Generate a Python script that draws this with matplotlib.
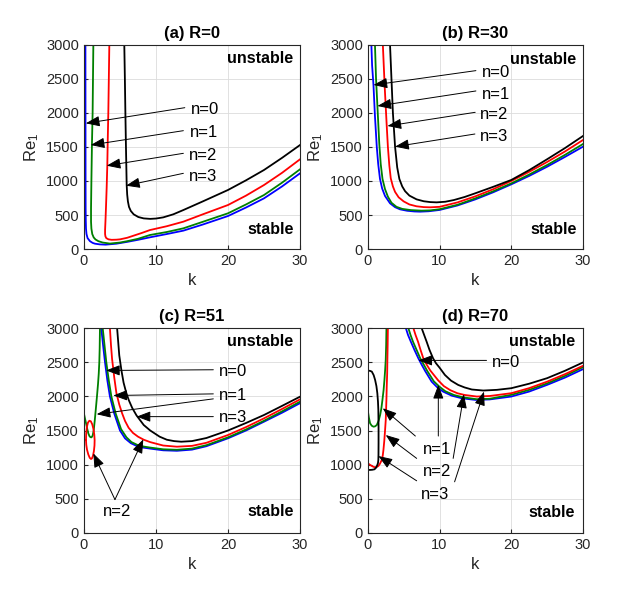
import matplotlib
matplotlib.use("Agg")
from matplotlib import pyplot as plt

plt.rcParams['font.family'] = ['Liberation Sans', 'DejaVu Sans']
plt.rcParams['mathtext.default'] = 'regular'

# colours of the modes n=0..3
mode_colors = ['#0000ff', '#008000', '#ff0000', '#000000']

# ---- (a) R=0 ----
a_k = [
    [0.2, 0.21, 0.22, 0.23, 0.25, 0.28, 0.35, 0.5, 0.83, 1.2, 1.53, 2.2, 3.0, 4.5, 6.0, 7.5, 9.17,
     11.5, 13.8, 16.5, 20, 22.5, 25, 27.5, 30],
    [1.3, 1.2, 1.11, 1.03, 0.98, 0.98, 1.03, 1.15, 1.35, 1.6, 2.0, 2.6, 3.6, 5.0, 6.0, 7.5, 9.17,
     11.5, 13.8, 16.5, 20, 22.5, 25, 27.5, 30],
    [3.52, 3.45, 3.38, 3.3, 3.24, 3.15, 3.06, 2.98, 2.93, 2.93, 2.98, 3.1, 3.4, 3.84, 4.5, 5.0, 6.0,
     7.0, 8.0, 9.17, 11.5, 13.8, 16.5, 20, 22.5, 25, 27.5, 30],
    [5.6, 5.68, 5.75, 5.83, 5.93, 6.0, 6.1, 6.25, 6.5, 6.9, 7.55, 8.3, 9.2, 10, 11, 12.4, 13.8,
     16.5, 20, 22.5, 25, 27.5, 30],
]
a_re = [
    [3000, 2000, 1000, 600, 420, 300, 220, 160, 115, 90, 78, 68, 64, 78, 105, 135, 172,
     220, 270, 360, 485, 610, 745, 920, 1113],
    [3000, 2000, 1554, 1000, 600, 400, 300, 220, 170, 140, 115, 95, 80, 95, 115, 150, 206,
     250, 304, 400, 525, 655, 794, 975, 1172],
    [3000, 2500, 2000, 1600, 1235, 900, 623, 400, 280, 220, 185, 160, 142, 135, 137, 142, 165,
     200, 235, 279, 335, 402, 510, 647, 785, 941, 1120, 1319],
    [3000, 2500, 2000, 1500, 941, 800, 700, 620, 560, 510, 470, 450, 443, 448, 465, 510, 573,
     700, 868, 1010, 1162, 1340, 1529],
]

# ---- (b) R=30 ----
b_k = [
    [0.5, 0.6, 0.79, 1.0, 1.25, 1.45, 1.7, 2.0, 2.4, 3.1, 3.8, 4.5, 5.5, 6.5, 7.3, 8.5, 10,
     12.5, 15, 17.5, 20, 22.5, 25, 27.5, 30],
    [1.0, 1.15, 1.34, 1.6, 1.8, 2.05, 2.4, 2.8, 3.3, 4.0, 4.8, 6.0, 7.5, 8.7, 10,
     12.5, 15, 17.5, 20, 22.5, 25, 27.5, 30],
    [2.1, 2.35, 2.64, 2.8, 3.0, 3.2, 3.5, 3.8, 4.3, 5.0, 5.8, 6.8, 7.8, 8.7, 10,
     12.5, 15, 17.5, 20, 22.5, 25, 27.5, 30],
    [3.1, 3.3, 3.5, 3.8, 4.1, 4.4, 4.8, 5.2, 5.8, 6.8, 7.8, 8.7, 9.6, 10.8, 12, 13.5,
     15, 17.5, 20, 22.5, 25, 27.5, 30],
]
b_re = [
    [3000, 2700, 2412, 1950, 1505, 1250, 1030, 890, 780, 672, 615, 583, 562, 552, 549, 555, 574,
     640, 730, 835, 951, 1075, 1210, 1355, 1505],
    [3000, 2500, 2103, 1550, 1250, 1030, 880, 770, 680, 620, 590, 572, 564, 568, 585,
     650, 745, 850, 965, 1095, 1235, 1385, 1544],
    [3000, 2400, 1809, 1505, 1230, 1040, 920, 840, 760, 700, 655, 628, 616, 613, 620,
     685, 775, 880, 1000, 1135, 1280, 1435, 1603],
    [3000, 2500, 2000, 1505, 1200, 1030, 920, 850, 785, 730, 702, 690, 686, 695, 720, 765,
     820, 915, 1015, 1160, 1320, 1485, 1662],
]

# ---- (c) R=51 ----
c_k = [
    [2.4, 2.65, 2.92, 3.25, 3.6, 4.2, 5.0, 5.7, 6.5, 7.3, 8.2, 9.2, 11, 12.9, 15, 17, 20,
     22.5, 25, 27.5, 30],
    [2.6, 2.85, 3.1, 3.45, 3.8, 4.4, 5.15, 5.9, 6.6, 7.4, 8.3, 9.2, 11, 12.9, 15, 17, 20,
     22.5, 25, 27.5, 30],
    [3.6, 3.75, 3.9, 4.2, 4.5, 4.9, 5.3, 5.7, 6.2, 6.8, 7.5, 8.3, 9.2, 11, 12.9, 15, 17, 20,
     22.5, 25, 27.5, 30],
    [4.6, 4.75, 4.9, 5.2, 5.5, 5.85, 6.2, 6.7, 7.3, 8.3, 9.2, 10.5, 11.5, 12.5, 13.5, 15, 17, 20,
     22.5, 25, 27.5, 30],
]
c_re = [
    [3000, 2750, 2500, 2230, 2000, 1750, 1500, 1385, 1315, 1275, 1250, 1235, 1210, 1203, 1220, 1270, 1386,
     1500, 1629, 1760, 1900],
    [3000, 2750, 2500, 2230, 2000, 1750, 1520, 1400, 1330, 1290, 1265, 1250, 1225, 1218, 1235, 1285, 1400,
     1515, 1643, 1780, 1922],
    [3000, 2750, 2550, 2280, 2050, 1880, 1750, 1640, 1540, 1465, 1410, 1365, 1330, 1280, 1263, 1275, 1320, 1434,
     1550, 1678, 1815, 1956],
    [3000, 2800, 2600, 2380, 2200, 2060, 1950, 1830, 1720, 1580, 1500, 1410, 1365, 1345, 1336, 1345, 1390, 1500,
     1610, 1727, 1860, 1995],
]
# n=1 left branch and n=2 closed loop at small k
c1_left_k = [0, 0.15, 0.3, 0.45, 0.6, 0.75, 0.9, 1.05, 1.2, 1.35, 1.5, 1.65, 1.8, 1.95, 2.05, 2.13, 2.18, 2.22]
c1_left_re = [1745, 1670, 1600, 1525, 1460, 1420, 1402, 1400, 1425, 1500, 1650, 1820, 1995, 2180, 2330, 2500, 2700, 3000]
c2_loop_k = [0.28, 0.31, 0.4, 0.55, 0.75, 0.95, 1.15, 1.32, 1.43, 1.48, 1.46, 1.38, 1.25, 1.1, 0.98, 0.8, 0.6, 0.42, 0.32, 0.28]
c2_loop_re = [1360, 1460, 1550, 1615, 1643, 1635, 1590, 1520, 1440, 1360, 1280, 1200, 1130, 1090, 1083, 1100, 1150, 1220, 1290, 1360]

# ---- (d) R=70 ----
d_k = [
    [5.3, 5.6, 6.0, 6.5, 7.05, 7.5, 8.0, 8.9, 9.7, 10.5, 11.7, 13.1, 15, 17, 20, 22.5, 25, 27.5, 30],
    [5.65, 5.95, 6.3, 6.8, 7.3, 7.8, 8.3, 9.2, 10.0, 10.8, 12.0, 13.3, 15.2, 17, 20, 22.5, 25, 27.5, 30],
    [6.35, 6.65, 7.0, 7.35, 7.74, 8.2, 8.7, 9.8, 10.6, 11.5, 12.5, 13.5, 15.2, 17, 20, 22.5, 25, 27.5, 30],
    [7.5, 7.85, 8.2, 8.6, 9.1, 9.5, 10.0, 10.75, 11.6, 12.6, 13.5, 14.5, 16.1, 18, 20, 22.5, 25, 27.5, 30],
]
d_re = [
    [3000, 2900, 2800, 2680, 2556, 2465, 2370, 2215, 2130, 2069, 2010, 1972, 1948, 1955, 1997, 2070, 2168, 2275, 2398],
    [3000, 2900, 2800, 2680, 2560, 2465, 2370, 2220, 2140, 2075, 2020, 1985, 1958, 1965, 2022, 2095, 2190, 2300, 2428],
    [3000, 2900, 2800, 2680, 2556, 2465, 2380, 2235, 2150, 2090, 2045, 2020, 1997, 2005, 2046, 2120, 2215, 2325, 2447],
    [3000, 2900, 2800, 2680, 2556, 2485, 2420, 2313, 2230, 2167, 2130, 2100, 2085, 2095, 2119, 2185, 2266, 2375, 2496],
]
# small-k branches for n=1, n=2, n=3
d1_left_k = [0, 0.15, 0.32, 0.55, 0.79, 1.0, 1.25, 1.5, 1.72, 1.9, 2.04, 2.2, 2.32, 2.42, 2.5, 2.56, 2.6]
d1_left_re = [1791, 1690, 1605, 1570, 1556, 1560, 1580, 1640, 1727, 1830, 1947, 2090, 2240, 2390, 2533, 2750, 3000]
d2_left_k = [0, 0.3, 0.56, 0.8, 1.02, 1.25, 1.48, 1.7, 1.95, 2.08, 2.18, 2.3, 2.41, 2.5, 2.55, 2.6, 2.64, 2.7, 2.73, 2.77, 2.8]
d2_left_re = [1020, 998, 981, 968, 962, 966, 981, 1015, 1069, 1130, 1215, 1350, 1508, 1650, 1800, 1970, 2142, 2330, 2533, 2760, 3000]
d3_left_k = [0, 0.3, 0.56, 0.82, 1.02, 1.2, 1.33, 1.42, 1.47, 1.5, 1.5, 1.49, 1.47, 1.42, 1.33, 1.15, 0.93, 0.6, 0.32, 0]
d3_left_re = [2377, 2373, 2362, 2310, 2240, 2150, 2045, 1920, 1800, 1550, 1313, 1150, 1069, 1025, 996, 955, 932, 925, 923, 923]

titles = ['(a) R=0', '(b) R=30', '(c) R=51', '(d) R=70']

# (label, text x, text y, ha, [(tail x, tail y, head x, head y), ...])
notes = [
    [('n=0', 14.8, 2044, 'left', [(14.0, 2078, 0.25, 1848)]),
     ('n=1', 14.7, 1716, 'left', [(13.8, 1740, 0.93, 1529)]),
     ('n=2', 14.6, 1382, 'left', [(13.8, 1407, 3.15, 1225)]),
     ('n=3', 14.6, 1064, 'left', [(13.8, 1113, 5.83, 931)])],
    [('n=0', 15.9, 2593, 'left', [(15.07, 2623, 0.79, 2412)]),
     ('n=1', 15.9, 2279, 'left', [(15.07, 2324, 1.34, 2103)]),
     ('n=2', 15.6, 1971, 'left', [(14.97, 2010, 2.74, 1809)]),
     ('n=3', 15.6, 1652, 'left', [(14.93, 1691, 3.8, 1505)])],
    [('n=0', 18.8, 2364, 'left', [(17.96, 2389, 3.06, 2379)]),
     ('n=1', 18.8, 2012, 'left', [(17.96, 2036, 4.07, 2012), (17.96, 1963, 1.76, 1738)]),
     ('n=3', 18.8, 1694, 'left', [(17.96, 1703, 7.31, 1703)]),
     ('n=2', 4.54, 308, 'center', [(4.3, 489, 1.3, 1165), (4.3, 489, 8.24, 1371)])],
    [('n=0', 17.3, 2501, 'left', [(16.55, 2526, 7.05, 2526)]),
     ('n=1', 9.7, 1224, 'center', [(6.63, 1419, 2.09, 1826), (9.83, 1419, 9.83, 2168)]),
     ('n=2', 9.6, 896, 'center', [(6.81, 1092, 2.5, 1434), (11.9, 1092, 13.4, 2031)]),
     ('n=3', 9.36, 568, 'center', [(6.81, 764, 1.48, 1126), (12.1, 749, 16.2, 2070)])],
]

# (unstable y, stable y, right x)
region_pos = [(2804, 294, 29.1), (2789, 294, 29.1), (2805, 308, 29.1), (2805, 294, 28.9)]

fig = plt.figure(figsize=(6.43, 5.99), dpi=100)
boxes = [(0.1306, 0.5843, 0.336, 0.3406), (0.572, 0.5843, 0.3347, 0.3406),
         (0.1306, 0.1102, 0.336, 0.3422), (0.572, 0.1102, 0.3347, 0.3422)]

all_k = [a_k, b_k, c_k, d_k]
all_re = [a_re, b_re, c_re, d_re]

for p in range(4):
    ax = fig.add_axes(boxes[p])
    for n in range(4):
        ax.plot(all_k[p][n], all_re[p][n], color=mode_colors[n], lw=1.3)
    if p == 2:
        ax.plot(c1_left_k, c1_left_re, color=mode_colors[1], lw=1.3)
        ax.plot(c2_loop_k, c2_loop_re, color=mode_colors[2], lw=1.3)
    if p == 3:
        ax.plot(d1_left_k, d1_left_re, color=mode_colors[1], lw=1.3)
        ax.plot(d2_left_k, d2_left_re, color=mode_colors[2], lw=1.3)
        ax.plot(d3_left_k, d3_left_re, color=mode_colors[3], lw=1.3)

    for label, tx, ty, ha, arrows in notes[p]:
        ax.text(tx, ty, label, ha=ha, va='center', fontsize=12)
        for x0, y0, x1, y1 in arrows:
            ax.annotate('', xy=(x1, y1), xytext=(x0, y0),
                        arrowprops=dict(arrowstyle='-|>,head_length=0.85,head_width=0.32',
                                        color='k', lw=0.7, shrinkA=0, shrinkB=0))

    uy, sy, rx = region_pos[p]
    ax.text(rx, uy, 'unstable', ha='right', va='center', fontsize=11.5, fontweight='bold')
    ax.text(rx, sy, 'stable', ha='right', va='center', fontsize=11.5, fontweight='bold')

    ax.set_xlim(0, 30)
    ax.set_ylim(0, 3000)
    ax.set_xticks([0, 10, 20, 30])
    ax.set_yticks(range(0, 3001, 500))
    ax.grid(True, color='#dcdcdc', lw=0.6)
    ax.set_axisbelow(True)
    ax.tick_params(direction='in', labelsize=10.5, colors='#262626', length=3)
    for s in ax.spines.values():
        s.set_color('#262626')
        s.set_linewidth(0.8)
    ax.set_xlabel('k', fontsize=12, color='#262626')
    ax.set_ylabel('Re$_1$', fontsize=12, color='#262626')
    ax.set_title(titles[p], fontsize=12, fontweight='bold', pad=5)

plt.savefig('out.png', dpi=100)
